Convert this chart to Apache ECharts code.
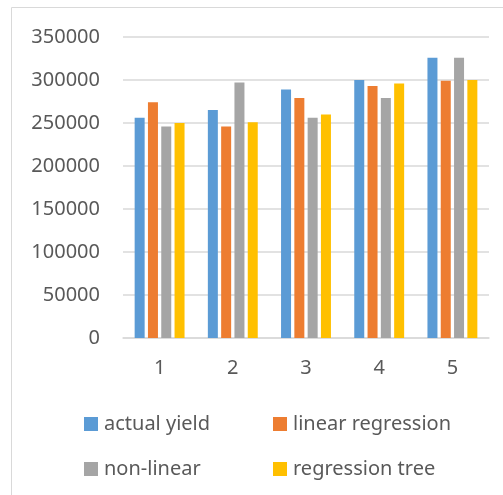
<!DOCTYPE html>
<html>
<head>
<meta charset="utf-8">
<script src="https://cdn.jsdelivr.net/npm/echarts@6/dist/echarts.min.js"></script>
<style>html,body{margin:0;padding:0;background:#fff}#c{width:503px;height:495px}</style>
</head>
<body>
<div id="c"></div>
<script>
const categories = ['1', '2', '3', '4', '5'];
const actualYield = [256000, 265000, 289000, 300000, 326000];
const linearRegression = [274000, 246000, 279000, 293000, 299000];
const nonLinear = [246000, 297000, 256000, 279000, 326000];
const regressionTree = [250000, 251000, 260000, 296000, 300000];
const seriesNames = ['actual yield', 'linear regression', 'non-linear', 'regression tree'];
const colors = ['#5B9BD5', '#ED7D31', '#A5A5A5', '#FFC000'];
const seriesData = [actualYield, linearRegression, nonLinear, regressionTree];

const font = '"Noto Sans", sans-serif';
const chart = echarts.init(document.getElementById('c'));
const legendPos = [[84, 414], [273, 414], [84, 459], [273, 459]];
chart.setOption({
  animation: false,
  color: colors,
  graphic: [{
    type: 'rect', shape: {x: 11.5, y: 7.5, width: 520, height: 520},
    style: {fill: 'none', stroke: '#D9D9D9', lineWidth: 1}, silent: true
  }],
  grid: {left: 123, right: 14, top: 37, bottom: 157, containLabel: false},
  legend: seriesNames.map((n, i) => ({
    data: [n], left: legendPos[i][0], top: legendPos[i][1], padding: 0,
    itemWidth: 14, itemHeight: 14, itemGap: 0, icon: 'rect',
    textStyle: {fontFamily: font, fontSize: 20, color: '#595959', padding: [0, 0, 0, 1]}
  })),
  xAxis: {
    type: 'category', data: categories,
    axisTick: {show: false},
    axisLine: {lineStyle: {color: '#D9D9D9', width: 1.5}},
    axisLabel: {fontFamily: font, fontSize: 20, color: '#595959', margin: 20}
  },
  yAxis: {
    type: 'value', min: 0, max: 350000, interval: 50000,
    axisLine: {show: false}, axisTick: {show: false},
    splitLine: {lineStyle: {color: '#D9D9D9', width: 1.5}},
    axisLabel: {fontFamily: font, fontSize: 20, color: '#595959', margin: 23,
      formatter: v => String(v)}
  },
  series: seriesNames.map((n, i) => ({
    name: n, type: 'bar', data: seriesData[i],
    barWidth: 10, barGap: '33%',
    itemStyle: {color: colors[i]}
  }))
});
</script>
</body>
</html>
